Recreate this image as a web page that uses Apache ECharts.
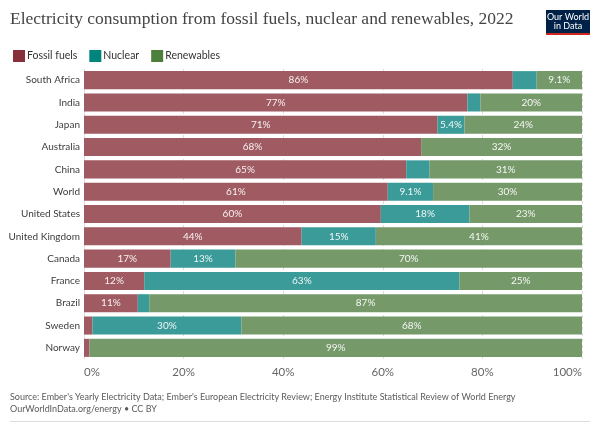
<!DOCTYPE html>
<html>
<head>
<meta charset="utf-8">
<script src="https://cdn.jsdelivr.net/npm/echarts@6/dist/echarts.min.js"></script>
<style>
html,body{margin:0;padding:0;background:#fff;}
#chart{width:600px;height:424px;}
</style>
</head>
<body>
<div id="chart"></div>
<script>
const countries = ["South Africa","India","Japan","Australia","China","World","United States","United Kingdom","Canada","France","Brazil","Sweden","Norway"];
const fossil     = [86.1, 77.0, 71.0, 67.7, 64.7, 61.0, 59.6, 43.7, 17.4, 12.1, 10.8, 1.7, 1.1];
const nuclear    = [4.8, 2.6, 5.4, 0, 4.7, 9.1, 17.8, 14.9, 13.0, 63.3, 2.3, 29.9, 0];
const renewables = [9.1, 20.4, 23.6, 32.3, 30.6, 29.9, 22.6, 41.4, 69.6, 24.6, 86.9, 68.4, 98.9];
const xTicks = [0, 20, 40, 60, 80, 100];

const FONT = 'Lato, "Noto Sans", sans-serif';
const chart = echarts.init(document.getElementById('chart'), null, {renderer:'canvas'});

function fmt(v){ return v >= 10 ? Math.round(v) + '%' : v.toFixed(1) + '%'; }
function mkSeries(name, data, color){
  return {
    name, type:'bar', stack:'total', data,
    barCategoryGap:'19%',
    itemStyle:{color},
    label:{
      show:true, position:'inside', color:'rgba(255,255,255,0.92)',
      fontFamily:FONT, fontSize:10,
      formatter: p => p.value >= 5 ? fmt(p.value) : ''
    },
    emphasis:{disabled:true}
  };
}

chart.setOption({
  animation:false,
  textStyle:{fontFamily:FONT},
  color:['#883039','#00847e','#4c7f3b'],
  legend:{
    left:8, top:45, itemWidth:12, itemHeight:12, itemGap:12,
    icon:'rect',
    textStyle:{fontFamily:FONT, fontSize:10.5, color:'#333', padding:[0,0,0,-3]},
    data:[
      {name:'Fossil fuels', itemStyle:{color:'#883039'}},
      {name:'Nuclear', itemStyle:{color:'#00847e'}},
      {name:'Renewables', itemStyle:{color:'#4c7f3b'}}
    ]
  },
  grid:{left:84, right:18, top:69, height:290, outerBoundsMode:'none', containLabel:false},
  xAxis:{
    type:'value', min:0, max:100, interval:20,
    axisLine:{show:false}, axisTick:{show:false},
    splitLine:{show:true, lineStyle:{color:'#dddddd', type:[3,3]}},
    axisLabel:{
      formatter: v => xTicks.includes(v) ? v + '%' : '',
      color:'#666', fontSize:11.5, fontFamily:FONT, margin:7,
      alignMinLabel:'left', alignMaxLabel:'right'
    }
  },
  yAxis:{
    type:'category', data:countries, inverse:true,
    axisLine:{show:true, lineStyle:{color:'#dddddd'}}, axisTick:{show:false},
    axisLabel:{color:'#3d3d3d', fontSize:10, fontFamily:FONT, margin:4}
  },
  series:[
    mkSeries('Fossil fuels', fossil, '#9f5a62'),
    mkSeries('Nuclear', nuclear, '#3a9b98'),
    mkSeries('Renewables', renewables, '#76996a')
  ],
  graphic:[
    {type:'text', left:10, top:10, style:{text:'Electricity consumption from fossil fuels, nuclear and renewables, 2022', font:'17.5px "Liberation Serif", serif', fill:'#444'}},
    {type:'group', left:546, top:10, children:[
      {type:'rect', shape:{x:0,y:0,width:44,height:25}, style:{fill:'#002147'}},
      {type:'rect', shape:{x:0,y:23,width:44,height:2}, style:{fill:'#ce261e'}},
      {type:'text', style:{x:22,y:7,text:'Our World', font:'9px Lato, sans-serif', fill:'#fff', align:'center', verticalAlign:'middle'}},
      {type:'text', style:{x:22,y:16,text:'in Data', font:'9px Lato, sans-serif', fill:'#fff', align:'center', verticalAlign:'middle'}}
    ]},
    {type:'text', left:10, top:393, style:{text:"Source: Ember's Yearly Electricity Data; Ember's European Electricity Review; Energy Institute Statistical Review of World Energy", font:'9px Lato, sans-serif', fill:'#5b5b5b'}},
    {type:'text', left:10, top:405, style:{text:'OurWorldInData.org/energy • CC BY', font:'9px Lato, sans-serif', fill:'#5b5b5b'}},
    {type:'rect', shape:{x:10,y:421,width:580,height:1}, style:{fill:'#dddddd'}}
  ]
});
</script>
</body>
</html>
